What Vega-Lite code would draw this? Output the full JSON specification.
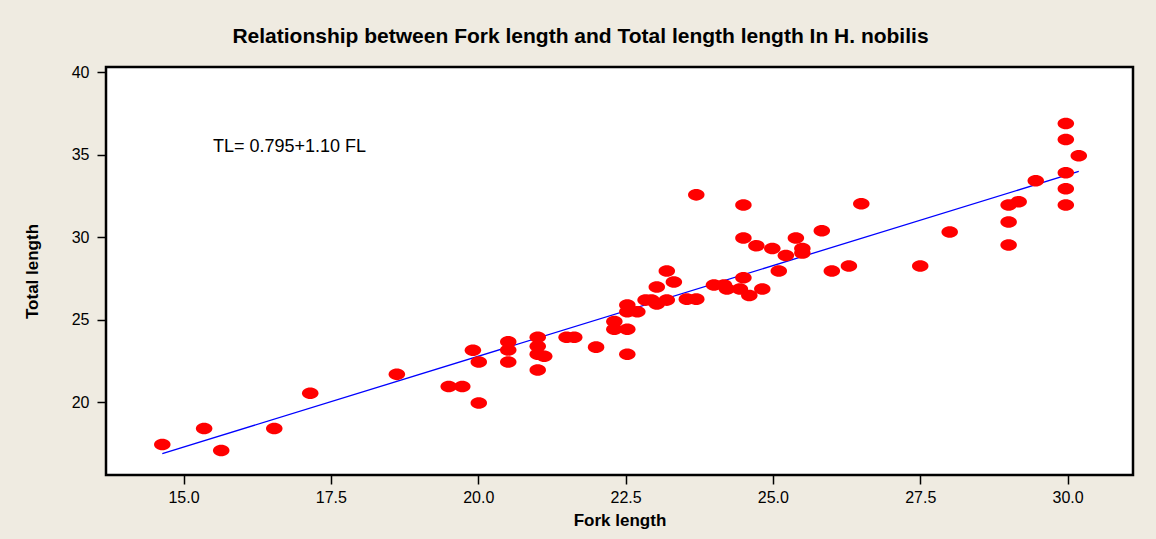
{
  "$schema": "https://vega.github.io/schema/vega-lite/v6.json",
  "autosize": {"type": "none"},
  "width": 1027,
  "height": 408,
  "padding": {"left": 106, "top": 67, "right": 23, "bottom": 64},
  "background": "#EFEBE1",
  "title": {
    "text": "Relationship between Fork length and Total length length In H. nobilis",
    "font": "Liberation Sans",
    "fontSize": 21,
    "fontWeight": "bold",
    "color": "#000000",
    "anchor": "middle",
    "frame": "group",
    "dx": -39,
    "offset": 17
  },
  "datasets": {
    "obs": [
      {"fl": 14.64, "tl": 17.45}, {"fl": 15.35, "tl": 18.42}, {"fl": 15.64, "tl": 17.08},
      {"fl": 16.54, "tl": 18.42}, {"fl": 17.15, "tl": 20.55}, {"fl": 18.62, "tl": 21.7},
      {"fl": 19.5, "tl": 20.97}, {"fl": 19.73, "tl": 20.97}, {"fl": 19.91, "tl": 23.16},
      {"fl": 20.01, "tl": 22.45}, {"fl": 20.01, "tl": 19.96}, {"fl": 20.51, "tl": 23.67},
      {"fl": 20.51, "tl": 23.18}, {"fl": 20.51, "tl": 22.45}, {"fl": 21.01, "tl": 23.95},
      {"fl": 21.01, "tl": 23.4}, {"fl": 21.01, "tl": 22.92}, {"fl": 21.12, "tl": 22.8},
      {"fl": 21.01, "tl": 21.97}, {"fl": 21.5, "tl": 23.95}, {"fl": 21.63, "tl": 23.95},
      {"fl": 22.0, "tl": 23.35}, {"fl": 22.31, "tl": 24.9}, {"fl": 22.31, "tl": 24.44},
      {"fl": 22.53, "tl": 24.44}, {"fl": 22.53, "tl": 22.92}, {"fl": 22.53, "tl": 25.9},
      {"fl": 22.53, "tl": 25.5}, {"fl": 22.7, "tl": 25.5}, {"fl": 22.84, "tl": 26.2},
      {"fl": 22.94, "tl": 26.2}, {"fl": 23.03, "tl": 25.96}, {"fl": 23.03, "tl": 26.99},
      {"fl": 23.2, "tl": 26.2}, {"fl": 23.2, "tl": 27.96}, {"fl": 23.32, "tl": 27.3},
      {"fl": 23.54, "tl": 26.26}, {"fl": 23.7, "tl": 26.26}, {"fl": 23.7, "tl": 32.58},
      {"fl": 24.0, "tl": 27.12}, {"fl": 24.17, "tl": 27.12}, {"fl": 24.22, "tl": 26.87},
      {"fl": 24.44, "tl": 26.87}, {"fl": 24.5, "tl": 27.55}, {"fl": 24.5, "tl": 31.97},
      {"fl": 24.5, "tl": 29.97}, {"fl": 24.6, "tl": 26.48}, {"fl": 24.72, "tl": 29.5},
      {"fl": 24.82, "tl": 26.87}, {"fl": 24.99, "tl": 29.33}, {"fl": 25.1, "tl": 27.96},
      {"fl": 25.22, "tl": 28.9}, {"fl": 25.39, "tl": 29.97}, {"fl": 25.5, "tl": 29.33},
      {"fl": 25.5, "tl": 29.05}, {"fl": 25.83, "tl": 30.4}, {"fl": 26.0, "tl": 27.96},
      {"fl": 26.29, "tl": 28.27}, {"fl": 26.5, "tl": 32.04}, {"fl": 27.5, "tl": 28.27},
      {"fl": 28.0, "tl": 30.33}, {"fl": 29.0, "tl": 31.97}, {"fl": 29.17, "tl": 32.16},
      {"fl": 29.0, "tl": 30.94}, {"fl": 29.0, "tl": 29.54}, {"fl": 29.46, "tl": 33.43},
      {"fl": 29.97, "tl": 36.9}, {"fl": 29.97, "tl": 35.93}, {"fl": 30.19, "tl": 34.95},
      {"fl": 29.97, "tl": 33.92}, {"fl": 29.97, "tl": 32.95}, {"fl": 29.97, "tl": 31.97}
    ],
    "fit": [
      {"fl": 14.64, "tl": 16.9},
      {"fl": 30.19, "tl": 34.0}
    ],
    "note": [
      {"fl": 15.5, "tl": 35.48, "label": "TL= 0.795+1.10 FL"}
    ]
  },
  "config": {
    "view": {"fill": "#FFFFFF", "stroke": "#000000", "strokeWidth": 2.5},
    "axis": {
      "grid": false,
      "domain": false,
      "tickColor": "#000000",
      "tickSize": 9,
      "tickWidth": 1.5,
      "labelFont": "Liberation Sans",
      "labelFontSize": 16,
      "labelColor": "#000000",
      "titleFont": "Liberation Sans",
      "titleFontSize": 17,
      "titleFontWeight": "bold",
      "titleColor": "#000000"
    }
  },
  "layer": [
    {
      "data": {"name": "fit"},
      "mark": {"type": "line", "color": "#0000FF", "strokeWidth": 1.3},
      "encoding": {
        "x": {
          "field": "fl", "type": "quantitative",
          "scale": {"domain": [13.685, 31.11], "nice": false, "zero": false},
          "axis": {"title": "Fork length", "values": [15, 17.5, 20, 22.5, 25, 27.5, 30], "format": ".1f", "labelPadding": 5, "titlePadding": 7}
        },
        "y": {
          "field": "tl", "type": "quantitative",
          "scale": {"domain": [15.6, 40.33], "nice": false, "zero": false},
          "axis": {"title": "Total length", "values": [20, 25, 30, 35, 40], "format": "d", "labelPadding": 8, "titlePadding": 30}
        }
      }
    },
    {
      "data": {"name": "obs"},
      "mark": {
        "type": "point",
        "shape": "M-1,0A1,0.7,0,1,1,1,0A1,0.7,0,1,1,-1,0Z",
        "filled": true,
        "color": "#FF0000",
        "opacity": 1,
        "size": 272
      },
      "encoding": {
        "x": {"field": "fl", "type": "quantitative"},
        "y": {"field": "tl", "type": "quantitative"}
      }
    },
    {
      "data": {"name": "note"},
      "mark": {"type": "text", "align": "left", "baseline": "middle", "font": "Liberation Sans", "fontSize": 18, "color": "#000000"},
      "encoding": {
        "x": {"field": "fl", "type": "quantitative"},
        "y": {"field": "tl", "type": "quantitative"},
        "text": {"field": "label"}
      }
    }
  ]
}
